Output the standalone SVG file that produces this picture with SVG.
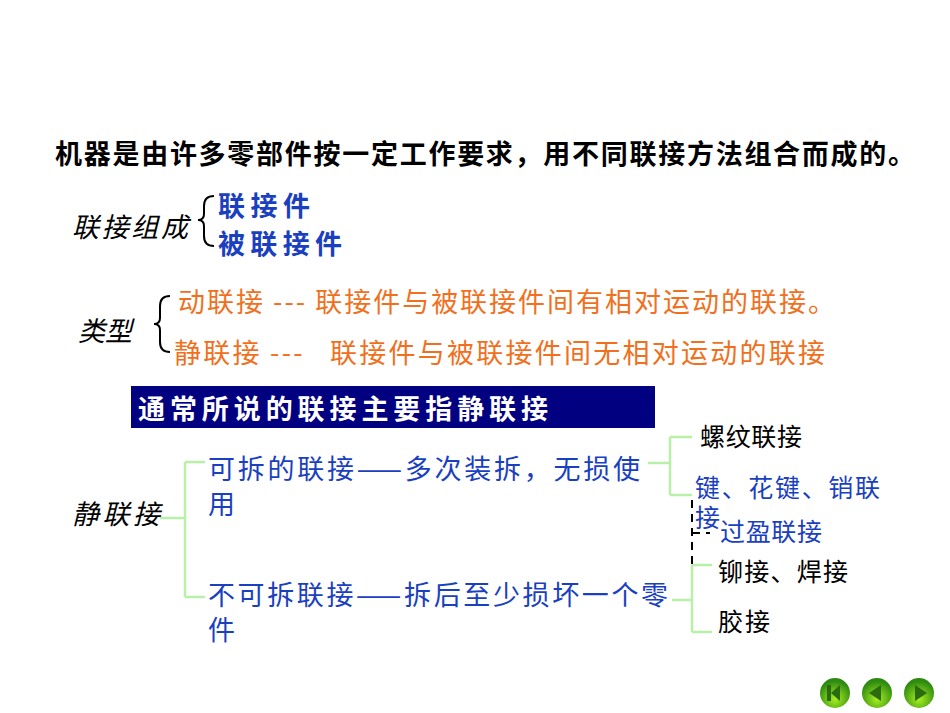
<svg xmlns="http://www.w3.org/2000/svg" width="950" height="713" viewBox="0 0 950 713">
<style>
text{font-family:"Noto Sans CJK SC",sans-serif;font-size:27px}
.k{fill:#000}.it{font-style:italic;fill:#000}.b{fill:#1a3fbf}.bb{fill:#1a3fbf;font-weight:bold}.o{fill:#f07020}
.s{font-size:25px}
.g{stroke:#b8f0a8;stroke-width:2.5;fill:none}
.br{stroke:#000;stroke-width:2;fill:none}
</style>
<defs>
<radialGradient id="gb" cx="0.5" cy="0.7" r="0.6"><stop offset="0" stop-color="#a8f020"/><stop offset="1" stop-color="#2e8a10"/></radialGradient>
</defs>
<rect width="950" height="713" fill="#fff"/>
<g id="title"><text x="55" y="164" class="k" font-weight="bold" font-size="24" textLength="860">机器是由许多零部件按一定工作要求，用不同联接方法组合而成的。</text></g>
<g id="composition">
<text x="72" y="237" class="it" textLength="116">联接组成</text>
<path class="br" d="M214,196 Q204,196 204,206 L204,214 Q204,220 198,220 Q204,220 204,226 L204,236 Q204,246 214,246"/>
<text x="218" y="216" class="bb" textLength="92">联接件</text>
<text x="218" y="254" class="bb" textLength="124">被联接件</text>
</g>
<g id="types">
<text x="78" y="341" class="it">类型</text>
<path class="br" d="M170,296 Q160,296 160,306 L160,318 Q160,324 154,324 Q160,324 160,330 L160,342 Q160,352 170,352"/>
<text x="178" y="312" class="o" textLength="657">动联接 --- 联接件与被联接件间有相对运动的联接。</text>
<text x="174" y="363" class="o" xml:space="preserve" textLength="651">静联接 ---   联接件与被联接件间无相对运动的联接</text>
</g>
<g id="banner">
<rect x="131" y="386" width="524" height="42" fill="#000080"/>
<text x="138" y="419" fill="#fff" font-weight="bold" textLength="410">通常所说的联接主要指静联接</text>
</g>
<g id="connectors">
<path class="g" d="M160,518 H185 M185,462 V597 M185,462 H205 M185,597 H205"/>
<path class="g" d="M648,463 H670 M670,437 V495 M670,437 H692 M670,495 H692"/>
<path class="g" d="M672,600 H692 M692,565 V632 M692,565 H712 M692,632 H712"/>
<path d="M692,500 V570 M692,533 H710" stroke="#000" stroke-width="2" stroke-dasharray="8,6" fill="none"/>
</g>
<g id="static"><text x="72" y="524" class="it" textLength="88">静联接</text></g>
<g id="detachable">
<text x="208" y="479" class="b" textLength="432">可拆的联接——多次装拆，无损使</text>
<text x="208" y="514" class="b">用</text>
</g>
<g id="permanent">
<text x="208" y="605" class="b" textLength="460">不可拆联接——拆后至少损坏一个零</text>
<text x="208" y="640" class="b">件</text>
</g>
<g id="thread"><text x="700" y="446" class="k s" textLength="102">螺纹联接</text></g>
<g id="key"><text x="695" y="497" class="b s" textLength="185">键、花键、销联</text><text x="695" y="527" class="b s">接</text></g>
<g id="interference"><text x="720" y="541" class="b s" textLength="102">过盈联接</text></g>
<g id="rivet"><text x="718" y="581" class="k s" textLength="130">铆接、焊接</text></g>
<g id="glue"><text x="718" y="631" class="k s" textLength="52">胶接</text></g>
<g id="nav">
<circle cx="835" cy="693" r="15" fill="url(#gb)"/>
<path d="M827,685 h4 v16 h-4z M831,693 l9,-8 v16z" fill="#2a6a10"/>
<circle cx="877" cy="693" r="15" fill="url(#gb)"/>
<path d="M869,693 l12,-8 v16z" fill="#2a6a10"/>
<circle cx="919" cy="693" r="15" fill="url(#gb)"/>
<path d="M927,693 l-12,-8 v16z" fill="#2a6a10"/>
</g>
</svg>
